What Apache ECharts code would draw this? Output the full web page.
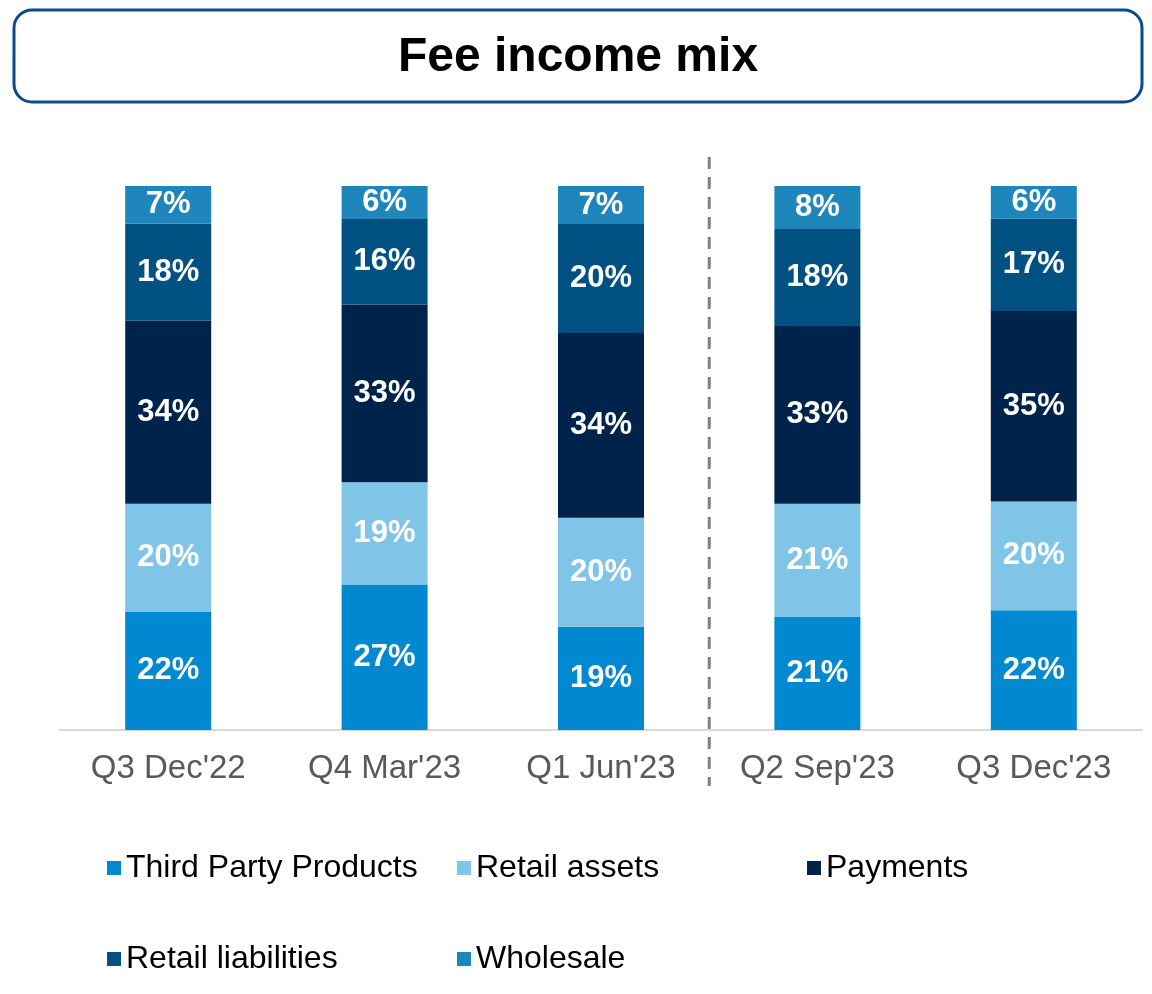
<!DOCTYPE html>
<html>
<head>
<meta charset="utf-8">
<script src="https://cdn.jsdelivr.net/npm/echarts@6/dist/echarts.min.js"></script>
<style>
  html, body { margin: 0; padding: 0; background: #fff; }
  #main { width: 1152px; height: 994px; }
</style>
</head>
<body>
<div id="main"></div>
<script>
// categories and shares (%) as shown on the slide
var quarters = ["Q3 Dec'22", "Q4 Mar'23", "Q1 Jun'23", "Q2 Sep'23", "Q3 Dec'23"];
var thirdParty = [22, 27, 19, 21, 22];
var retailAssets = [20, 19, 20, 21, 20];
var payments = [34, 33, 34, 33, 35];
var retailLiab = [18, 16, 20, 18, 17];
var wholesale = [7, 6, 7, 8, 6];

var names = ['Third Party Products', 'Retail assets', 'Payments', 'Retail liabilities', 'Wholesale'];
var colors = ['#0088d0', '#80c4e8', '#00234b', '#005182', '#1f86bb'];
var rows = [thirdParty, retailAssets, payments, retailLiab, wholesale];

// totals per bar (rounding makes some add up to 101), used to scale to 100
var totals = quarters.map(function (q, i) {
  var s = 0;
  rows.forEach(function (r) { s += r[i]; });
  return s;
});

var myChart = echarts.init(document.getElementById('main'));

var series = rows.map(function (r, k) {
  return {
    name: names[k],
    type: 'bar',
    stack: 'mix',
    barWidth: 86,
    itemStyle: { color: colors[k] },
    label: {
      show: true,
      position: 'inside',
      color: '#fff',
      fontFamily: 'Liberation Sans, Arial',
      fontWeight: 'bold',
      fontSize: 31,
      formatter: function (p) { return r[p.dataIndex] + '%'; }
    },
    data: r.map(function (v, i) { return v / totals[i] * 100; })
  };
});

// legend laid out in three fixed columns, like the slide
var legendPos = [[102, 847], [452, 847], [802, 847], [102, 938], [452, 938]];
var legends = names.map(function (n, k) {
  return {
    data: [n],
    left: legendPos[k][0],
    top: legendPos[k][1],
    icon: 'rect',
    itemWidth: 14,
    itemHeight: 14,
    itemGap: 6,
    selectedMode: false,
    textStyle: { color: '#000', fontSize: 32, fontFamily: 'Liberation Sans, Arial' }
  };
});

var titleBox = [
  {
    type: 'rect',
    shape: { x: 14, y: 10, width: 1128, height: 92, r: 18 },
    style: { fill: '#fff', stroke: '#0b4a8c', lineWidth: 3 }
  },
  {
    type: 'text',
    x: 578, y: 58,
    style: {
      text: 'Fee income mix',
      fill: '#000',
      font: 'bold 48px "Liberation Sans", Arial',
      align: 'center',
      verticalAlign: 'middle'
    }
  }
];

var option = {
  animation: false,
  legend: legends,
  grid: { left: 60, right: 10, top: 186, bottom: 264 },
  xAxis: {
    type: 'category',
    data: quarters,
    axisTick: { show: false },
    axisLine: { lineStyle: { color: '#d9d9d9', width: 2 } },
    axisLabel: {
      color: '#595959',
      fontSize: 33,
      fontFamily: 'Liberation Sans, Arial',
      margin: 22,
      interval: 0
    }
  },
  yAxis: {
    type: 'value',
    min: 0,
    max: 100,
    show: false,
    splitLine: { show: false }
  },
  graphic: titleBox,
  series: series
};

myChart.setOption(option);

// dashed divider between Q1 Jun'23 and Q2 Sep'23
var x1 = myChart.convertToPixel({ xAxisIndex: 0 }, quarters[2]);
var x2 = myChart.convertToPixel({ xAxisIndex: 0 }, quarters[3]);
var xm = (x1 + x2) / 2;
myChart.setOption({
  graphic: titleBox.concat([
    {
      type: 'line',
      shape: { x1: xm, y1: 157, x2: xm, y2: 786 },
      style: { stroke: '#808080', lineWidth: 3, lineDash: [12, 8] }
    }
  ])
});
</script>
</body>
</html>
